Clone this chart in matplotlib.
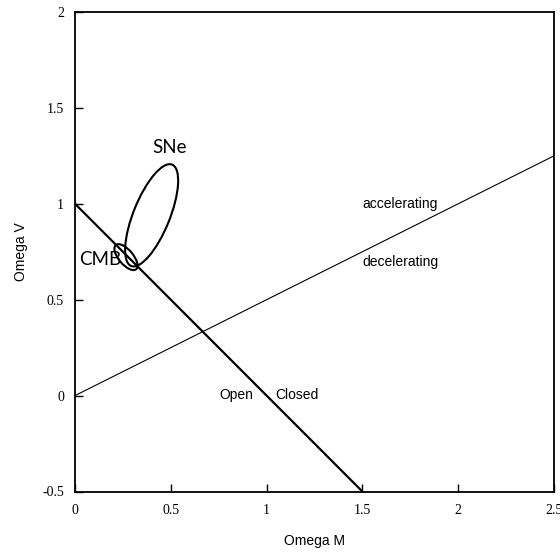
import matplotlib
matplotlib.use("Agg")
import matplotlib.pyplot as plt
from matplotlib.patches import Ellipse

# Axis ranges and ticks
x_ticks = [0, 0.5, 1, 1.5, 2, 2.5]
y_ticks = [-0.5, 0, 0.5, 1, 1.5, 2]
x_tick_labels = ["0", "0.5", "1", "1.5", "2", "2.5"]
y_tick_labels = ["-0.5", "0", "0.5", "1", "1.5", "2"]

# Flat universe line: Omega_M + Omega_V = 1
flat_m = [0.0, 1.5]
flat_v = [1.0, -0.5]

# Acceleration boundary: Omega_V = Omega_M / 2
accel_m = [0.0, 2.5]
accel_v = [0.0, 1.25]

# Confidence contours (center, full width, full height, angle in degrees)
sne_center = (0.40, 0.94)
sne_size = (0.57, 0.19)
sne_angle = 68
cmb_center = (0.266, 0.722)
cmb_size = (0.165, 0.075)
cmb_angle = -50

fig = plt.figure(figsize=(5.6, 5.53), dpi=100)
ax = fig.add_axes([75 / 560, 1 - 491.5 / 553, 479 / 560, 479.5 / 553])

ax.plot(flat_m, flat_v, color="black", lw=1.6, solid_capstyle="butt")
ax.plot(accel_m, accel_v, color="black", lw=0.8)

ax.add_patch(Ellipse(sne_center, sne_size[0], sne_size[1], angle=sne_angle,
                     fill=False, edgecolor="black", lw=1.5))
ax.add_patch(Ellipse(cmb_center, cmb_size[0], cmb_size[1], angle=cmb_angle,
                     fill=False, edgecolor="black", lw=1.5))

ax.set_xlim(0, 2.5)
ax.set_ylim(-0.5, 2)

serif = ["Liberation Serif", "DejaVu Serif"]
sans = ["Liberation Sans", "DejaVu Sans"]
label_font = ["Lato", "DejaVu Sans"]

ax.set_xticks(x_ticks)
ax.set_yticks(y_ticks)
ax.set_xticklabels(x_tick_labels, family=serif, fontsize=10)
ax.set_yticklabels(y_tick_labels, family=serif, fontsize=10)
ax.tick_params(direction="in", length=6, width=1, top=False, right=False,
               colors="black")
ax.tick_params(axis="x", pad=9)
ax.tick_params(axis="y", pad=8)
for s in ax.spines.values():
    s.set_linewidth(1.3)

ax.set_xlabel("Omega M", family=sans, fontsize=10, labelpad=12)
ax.set_ylabel("Omega V", family=sans, fontsize=10, labelpad=10)

ax.text(1.696, 0.999, "accelerating", family=sans, fontsize=10,
        ha="center", va="center")
ax.text(1.696, 0.697, "decelerating", family=sans, fontsize=10,
        ha="center", va="center")
ax.text(0.84, 0.003, "Open", family=sans, fontsize=10,
        ha="center", va="center")
ax.text(1.16, 0.003, "Closed", family=sans, fontsize=10,
        ha="center", va="center")

ax.text(0.496, 1.296, "SNe", family=label_font, fontsize=13.5,
        ha="center", va="center")
ax.text(0.13, 0.707, "CMB", family=label_font, fontsize=13.5,
        ha="center", va="center")

fig.savefig("out.png", dpi=100)
